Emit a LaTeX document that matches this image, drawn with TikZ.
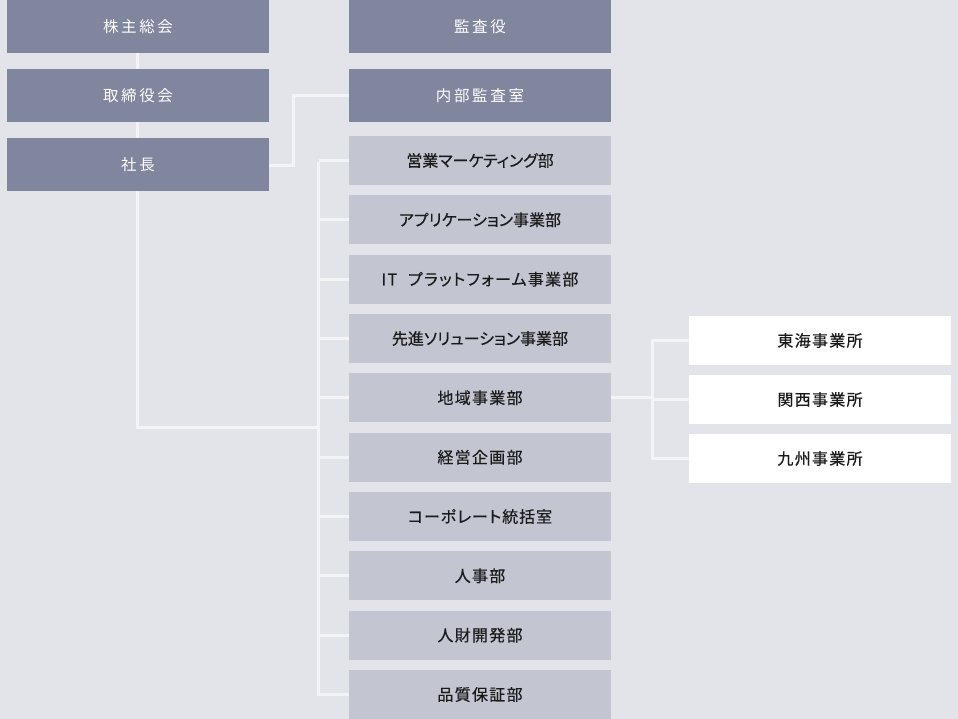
\documentclass[tikz,border=0pt]{standalone}
\usepackage{fontspec}
\setmainfont{Noto Sans CJK JP}
\newfontfamily\dkfont[LetterSpace=17]{Noto Sans CJK JP}
\newfontfamily\ltfont[LetterSpace=8,FakeBold=0.4,RawFeature=+palt]{Noto Sans CJK JP}
\newfontfamily\ltfonttight[FakeBold=0.4,RawFeature=+palt]{Noto Sans CJK JP}
\newfontfamily\ltfontmid[LetterSpace=6,FakeBold=0.4,RawFeature=+palt]{Noto Sans CJK JP}
\definecolor{bgc}{HTML}{E3E4E9}
\definecolor{dkc}{HTML}{80869E}
\definecolor{ltc}{HTML}{C3C5D1}
\definecolor{linec}{HTML}{F4F4F6}
\definecolor{txtc}{HTML}{1A1A1A}
\tikzset{
  box/.style={minimum width=262pt, inner sep=0pt, anchor=center},
  darkbox/.style={box, fill=dkc, minimum height=53pt, text=white, font=\dkfont\fontsize{15.5}{17}\selectfont},
  lightbox/.style={box, fill=ltc, minimum height=49pt, text=txtc, font=\ltfont\fontsize{16}{18}\selectfont},
  tightbox/.style={lightbox, font=\ltfonttight\fontsize{16}{18}\selectfont},
  midbox/.style={lightbox, font=\ltfontmid\fontsize{16}{18}\selectfont},
  whitebox/.style={box, fill=white, minimum height=49pt, text=txtc, font=\ltfont\fontsize{16}{18}\selectfont},
  conn/.style={draw=linec, line width=3pt}
}
\begin{document}
\begin{tikzpicture}[x=1pt,y=-1pt]
\fill[bgc] (0,0) rectangle (958,719);
\useasboundingbox (0,0) rectangle (958,719);
% left column
\node[darkbox] (kabu) at (138,26.5) {株主総会};
\node[darkbox] (tori) at (138,95.5) {取締役会};
\node[darkbox] (sha) at (138,164.5) {社長};
% middle top
\node[darkbox] (kansa) at (480,26.5) {監査役};
\node[darkbox] (naibu) at (480,95.5) {内部監査室};
% middle light boxes
\node[tightbox] (d1) at (480,160.5) {営業マーケティング部};
\node[tightbox] (d2) at (480,219.8) {アプリケーション事業部};
\node[lightbox] (d3) at (480,279.2) {IT\hspace{6pt} プラットフォーム事業部};
\node[tightbox] (d4) at (480,338.5) {先進ソリューション事業部};
\node[lightbox] (d5) at (480,397.8) {地域事業部};
\node[lightbox] (d6) at (480,457.2) {経営企画部};
\node[midbox] (d7) at (480,516.5) {コーポレート統括室};
\node[lightbox] (d8) at (480,575.8) {人事部};
\node[lightbox] (d9) at (480,635.2) {人財開発部};
\node[lightbox] (d10) at (480,694.5) {品質保証部};
% right offices
\node[whitebox] (o1) at (820,340.5) {東海事業所};
\node[whitebox] (o2) at (820,399.5) {関西事業所};
\node[whitebox] (o3) at (820,458.5) {九州事業所};
% connectors
\coordinate (bustop) at (318.5,162);
\coordinate (busbot) at (318.5,427);
\coordinate (obus) at (652,340.5);
\draw[conn] ([xshift=-1pt]kabu.south) -- ([xshift=-1pt]tori.north);
\draw[conn] ([xshift=-1pt]tori.south) -- ([xshift=-1pt]sha.north);
\draw[conn] ([xshift=-1pt]sha.south) |- (busbot);
\draw[conn] ([yshift=-1.5pt]sha.east) -- ++(24,0) |- (naibu.west);
\draw[conn] (bustop) |- (d10.west);
\foreach \i in {1,...,9} { \draw[conn] (bustop |- d\i.west) -- (d\i.west); }
\draw[conn] (d5.east) -- (d5.east -| obus);
\draw[conn] (o1.west) -- (obus) |- (o3.west);
\draw[conn] (obus |- o2.west) -- (o2.west);
\end{tikzpicture}
\end{document}
